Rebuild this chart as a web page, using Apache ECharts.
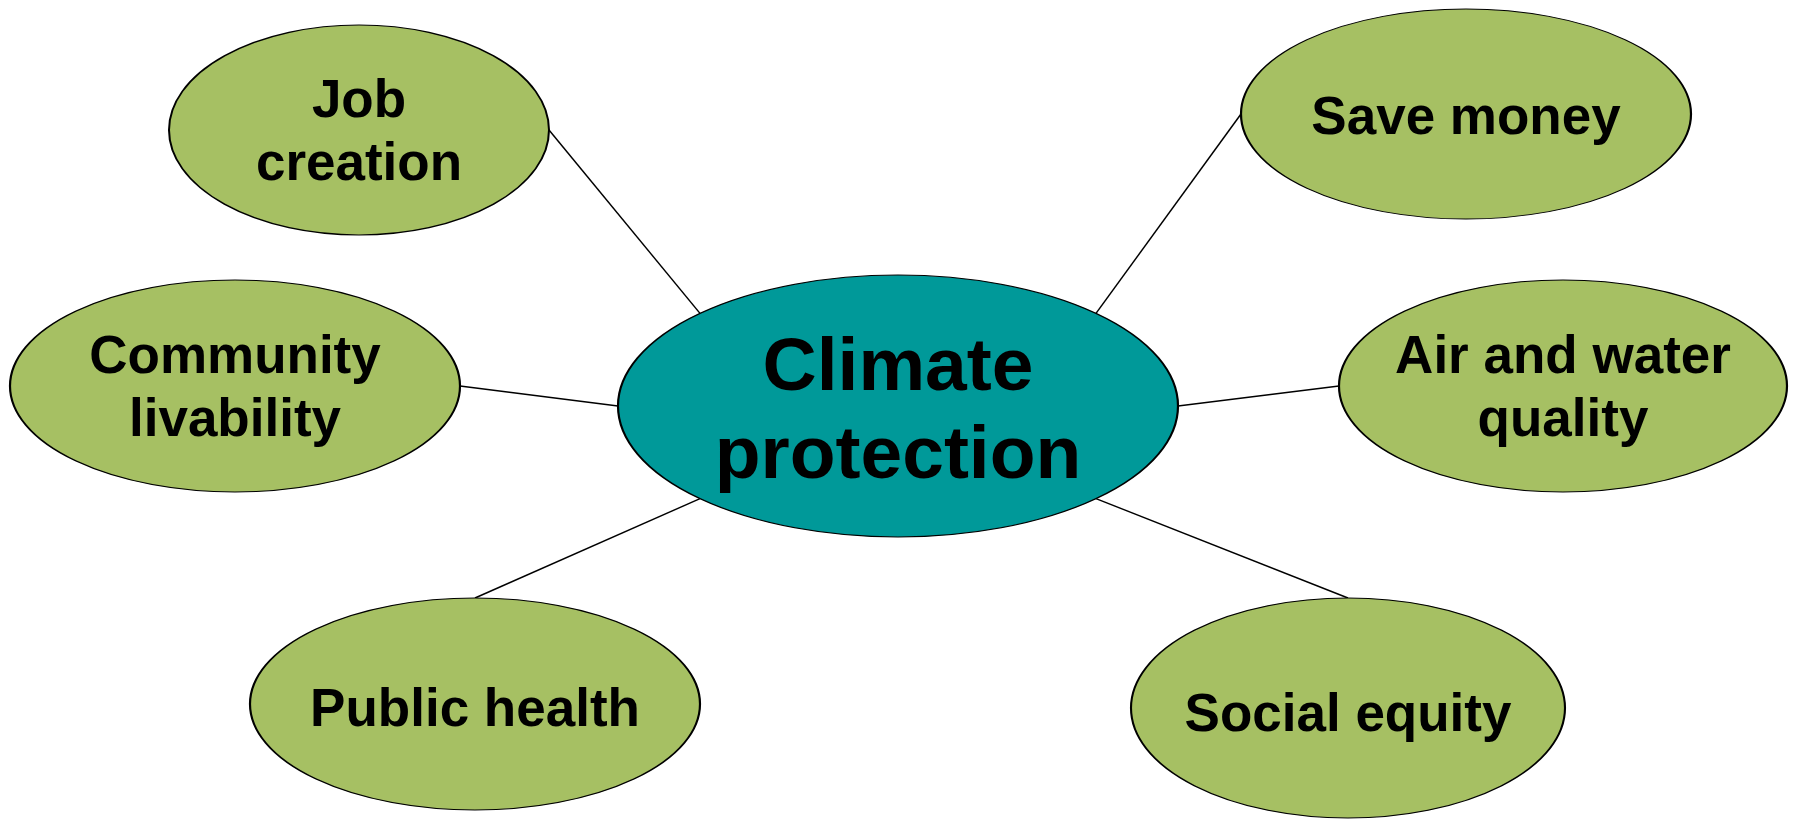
<!DOCTYPE html>
<html>
<head>
<meta charset="utf-8">
<title>Climate protection</title>
<script src="https://cdn.jsdelivr.net/npm/echarts@6/dist/echarts.min.js"></script>
<style>
  html, body { margin: 0; padding: 0; background: #fff; }
  #chart { width: 1794px; height: 819px; }
</style>
</head>
<body>
<div id="chart"></div>
<script>
// topics, first one is the hub
const topics = ['Climate\nprotection', 'Job\ncreation', 'Save money', 'Community\nlivability',
  'Air and water\nquality', 'Public health', 'Social equity']
// ellipse centres and half axes (pixels of the 1794x819 picture)
const centerX = [898, 359, 1466, 235, 1563, 475, 1348]
const centerY = [406, 130, 114, 386, 386, 704, 708]
const radiusX = [280, 190, 225, 225, 224, 225, 217]
const radiusY = [131, 105, 105, 106, 106, 106, 110]

// connectors: satellite index, angle on hub, angle on satellite (degrees, y down)
const linkTarget = [1, 2, 3, 4, 5, 6]
const hubAngle = [225, 315, 180, 0, 135, 45]
const leafAngle = [0, 180, 0, 180, 270, 270]

// small vertical nudge of each label so it sits like the original
const labelShift = [7, 4, 5, 4, 4, 7, 8]

const chart = echarts.init(document.getElementById('chart'))

// point on the rim of ellipse i at angle a
const rim = (i, a) => {
  const t = a * Math.PI / 180
  return [centerX[i] + radiusX[i] * Math.cos(t), centerY[i] + radiusY[i] * Math.sin(t)]
}

const nodes = topics.map((name, i) => ({
  name: name,
  value: [centerX[i], centerY[i]],
  symbolSize: [radiusX[i] * 2, radiusY[i] * 2],
  itemStyle: { color: i === 0 ? '#009999' : '#A6C063' },
  label: Object.assign({ offset: [0, labelShift[i]] },
    i === 0 ? { fontSize: 75, lineHeight: 88 } : {})
}))

const links = linkTarget.map((t, k) => ({
  coords: [rim(0, hubAngle[k]), rim(t, leafAngle[k])]
}))

const option = {
  animation: false,
  grid: { left: 0, right: 0, top: 0, bottom: 0 },
  xAxis: { type: 'value', min: 0, max: 1794, show: false },
  yAxis: { type: 'value', min: 0, max: 819, inverse: true, show: false },
  series: [
    {
      type: 'lines',
      coordinateSystem: 'cartesian2d',
      z: 1,
      silent: true,
      lineStyle: { color: '#000', width: 1.5, opacity: 1, curveness: 0 },
      data: links
    },
    {
      type: 'scatter',
      z: 2,
      symbol: 'circle',
      itemStyle: { borderColor: '#000', borderWidth: 1.5, opacity: 1 },
      label: {
        show: true,
        position: 'inside',
        formatter: p => p.name,
        color: '#000',
        fontFamily: 'Liberation Sans, Arial, sans-serif',
        fontWeight: 'bold',
        fontSize: 53,
        lineHeight: 63,
        align: 'center'
      },
      emphasis: { disabled: true },
      data: nodes
    }
  ]
}

chart.setOption(option)
</script>
</body>
</html>
